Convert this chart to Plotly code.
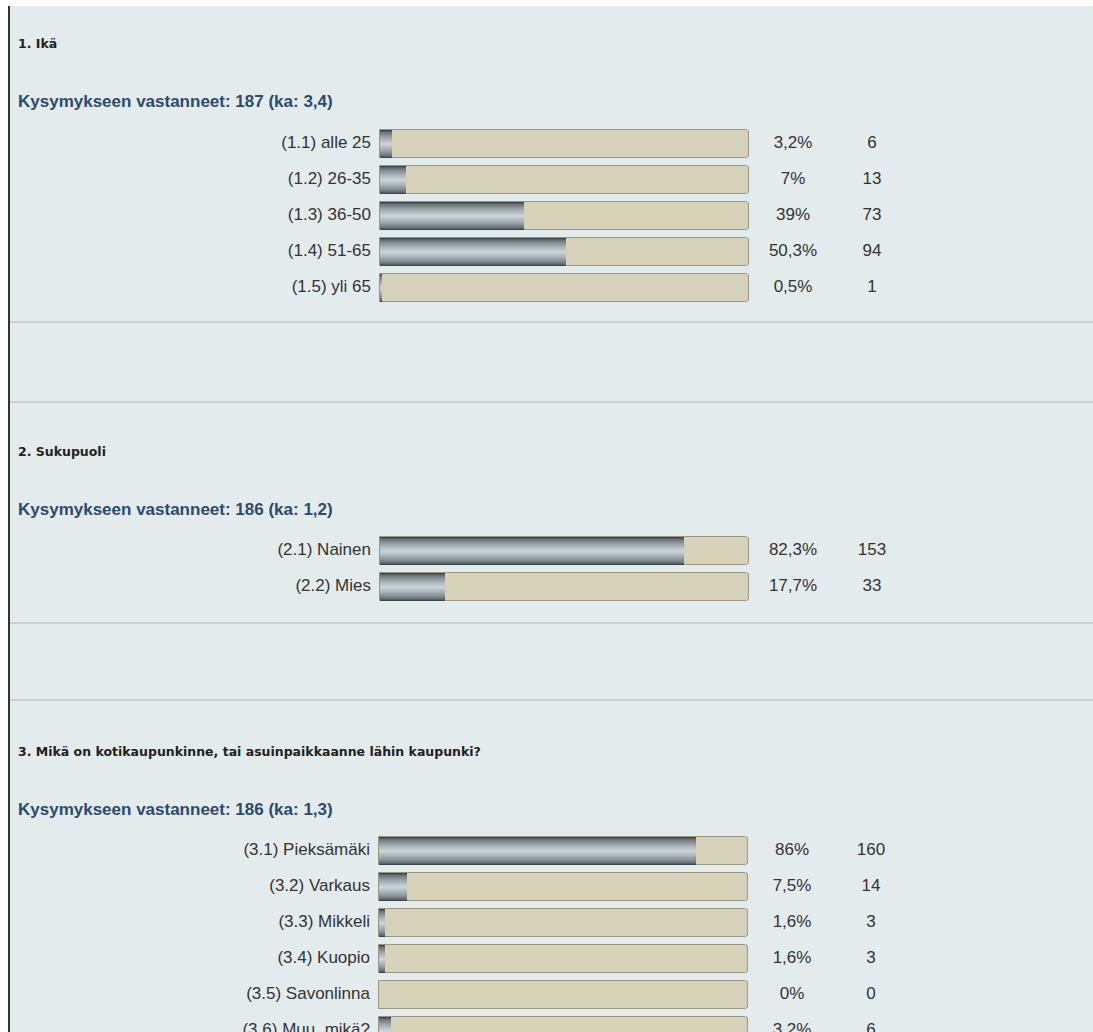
import plotly.graph_objects as go

# ---------------- data ----------------
q1_title = "1. Ikä"
q1_summary = "Kysymykseen vastanneet: 187 (ka: 3,4)"
q1_labels = ["(1.1) alle 25", "(1.2) 26-35", "(1.3) 36-50", "(1.4) 51-65", "(1.5) yli 65"]
q1_pct = [3.2, 7, 39, 50.3, 0.5]
q1_count = [6, 13, 73, 94, 1]

q2_title = "2. Sukupuoli"
q2_summary = "Kysymykseen vastanneet: 186 (ka: 1,2)"
q2_labels = ["(2.1) Nainen", "(2.2) Mies"]
q2_pct = [82.3, 17.7]
q2_count = [153, 33]

q3_title = "3. Mikä on kotikaupunkinne, tai asuinpaikkaanne lähin kaupunki?"
q3_summary = "Kysymykseen vastanneet: 186 (ka: 1,3)"
q3_labels = ["(3.1) Pieksämäki", "(3.2) Varkaus", "(3.3) Mikkeli", "(3.4) Kuopio",
             "(3.5) Savonlinna", "(3.6) Muu, mikä?"]
q3_pct = [86, 7.5, 1.6, 1.6, 0, 3.2]
q3_count = [160, 14, 3, 3, 0, 6]

# ---------------- layout helpers ----------------
W, H = 1093, 1032
BG = "#e4ebed"
ROW = 36.0
PX_PER_UNIT = 3.69  # pixels per percent
PCT_X = (793 - 380) / PX_PER_UNIT
CNT_X = (872 - 380) / PX_PER_UNIT
LBL_X = -9 / PX_PER_UNIT
AX_LEFT = 12  # axis domain starts here (pixels)
FONT = "Liberation Sans, Arial, sans-serif"
TXT = "#333333"


def py(p):
    return 1 - p / H


def fmt_pct(v):
    return f"{v:g}".replace(".", ",") + "%"


def mix(c1, c2, t):
    a = [int(c1[i:i + 2], 16) for i in (1, 3, 5)]
    b = [int(c2[i:i + 2], 16) for i in (1, 3, 5)]
    return "#" + "".join(f"{round(x + (y - x) * t):02x}" for x, y in zip(a, b))


# metallic gradient layers: (band width, colour), from outside (dark) to centre (light)
N_LAYERS = 14
grad = [(0.80 - 0.76 * k / (N_LAYERS - 1), mix("#3a4347", "#c8d2d6", (k / (N_LAYERS - 1)) ** 0.6))
        for k in range(N_LAYERS)]

fig = go.Figure()

questions = [
    (q1_title, q1_summary, q1_labels, q1_pct, q1_count, 126, 44, 102, 380),
    (q2_title, q2_summary, q2_labels, q2_pct, q2_count, 533, 451, 509, 380),
    (q3_title, q3_summary, q3_labels, q3_pct, q3_count, 833, 751, 809, 379),
]

annotations = []
layout_axes = {}
for qi, (title, summary, labels, pct, cnt, top_px, title_px, sum_px, x0px) in enumerate(questions):
    n = len(labels)
    bottom_px = min(top_px + n * ROW, H)
    ax = "" if qi == 0 else str(qi + 1)
    xref, yref = "x" + ax, "y" + ax
    ys = list(range(n))
    # background track
    fig.add_trace(go.Bar(
        x=[100] * n, y=ys, orientation="h", width=0.8,
        marker=dict(color="#d6d1b9", line=dict(color="#9a9684", width=1)),
        xaxis=xref, yaxis=yref, hoverinfo="skip", showlegend=False))
    # value bar with layered metallic gradient
    for w, c in grad:
        fig.add_trace(go.Bar(
            x=pct, y=ys, orientation="h", width=w,
            marker=dict(color=c, line=dict(width=0)),
            xaxis=xref, yaxis=yref, hoverinfo="skip", showlegend=False))
    # category labels, percentage & count text
    for xs, txt, pos in [(LBL_X, labels, "middle left"),
                         (PCT_X, [fmt_pct(v) for v in pct], "middle center"),
                         (CNT_X, [str(v) for v in cnt], "middle center")]:
        fig.add_trace(go.Scatter(
            x=[xs] * n, y=ys, mode="text", text=txt, textposition=pos,
            textfont=dict(family=FONT, size=17, color=TXT),
            xaxis=xref, yaxis=yref, hoverinfo="skip", showlegend=False, cliponaxis=False))

    rng_bottom = -0.5 + (bottom_px - top_px) / ROW
    layout_axes["xaxis" + ax] = dict(
        domain=[AX_LEFT / W, 1],
        range=[(AX_LEFT - x0px) / PX_PER_UNIT, (W - x0px) / PX_PER_UNIT],
        visible=False, fixedrange=True, anchor=yref)
    layout_axes["yaxis" + ax] = dict(
        domain=[py(bottom_px), py(top_px)], range=[rng_bottom, -0.5],
        visible=False, anchor=xref, fixedrange=True)

    annotations.append(dict(
        text=f"<b>{title}</b>", x=16 / W, y=py(title_px), xref="paper", yref="paper",
        xanchor="left", yanchor="middle", showarrow=False,
        font=dict(family="DejaVu Sans, Verdana, sans-serif", size=12.5, color="#222222")))
    annotations.append(dict(
        text=f"<b>{summary}</b>", x=16 / W, y=py(sum_px), xref="paper", yref="paper",
        xanchor="left", yanchor="middle", showarrow=False,
        font=dict(family=FONT, size=17, color="#2c4a6e")))

shapes = [
    dict(type="rect", xref="paper", yref="paper", x0=0, x1=1, y0=py(6), y1=1,
         fillcolor="white", line=dict(width=0), layer="below"),
    dict(type="rect", xref="paper", yref="paper", x0=0, x1=8 / W, y0=0, y1=1,
         fillcolor="white", line=dict(width=0), layer="below"),
    dict(type="line", xref="paper", yref="paper", x0=9 / W, x1=9 / W, y0=0, y1=py(6),
         line=dict(color="#333333", width=2)),
]
for ypx in [322, 402, 623, 700]:
    shapes.append(dict(type="line", xref="paper", yref="paper", x0=10 / W, x1=1,
                       y0=py(ypx), y1=py(ypx), line=dict(color="#c3c8c9", width=1.5)))

fig.update_layout(
    width=W, height=H, margin=dict(l=0, r=0, t=0, b=0),
    paper_bgcolor=BG, plot_bgcolor="rgba(0,0,0,0)",
    barmode="overlay", barcornerradius=3, bargap=0,
    annotations=annotations, shapes=shapes, showlegend=False,
    **layout_axes)

fig.write_html("out.html", config={"displayModeBar": False},
               post_script="document.body.style.margin='0';document.body.style.overflow='hidden';")
